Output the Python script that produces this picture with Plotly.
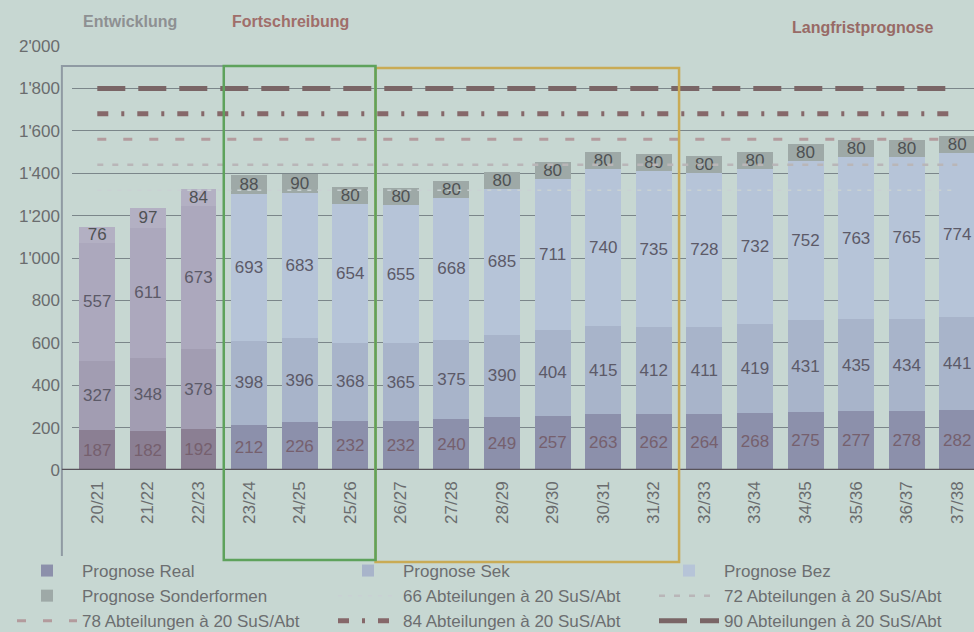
import plotly.graph_objects as go

# ---------------- data ----------------
categories = ["20/21", "21/22", "22/23", "23/24", "24/25", "25/26", "26/27", "27/28", "28/29",
              "29/30", "30/31", "31/32", "32/33", "33/34", "34/35", "35/36", "36/37", "37/38"]
real = [187, 182, 192, 212, 226, 232, 232, 240, 249, 257, 263, 262, 264, 268, 275, 277, 278, 282]
sek = [327, 348, 378, 398, 396, 368, 365, 375, 390, 404, 415, 412, 411, 419, 431, 435, 434, 441]
bez = [557, 611, 673, 693, 683, 654, 655, 668, 685, 711, 740, 735, 728, 732, 752, 763, 765, 774]
sonder = [76, 97, 84, 88, 90, 80, 80, 80, 80, 80, 80, 80, 80, 80, 80, 80, 80, 80]
n_hist = 3  # Entwicklung (historic) years

abteilungen = [66, 72, 78, 84, 90]
sus_per_abt = 20
ytick_vals = [0, 200, 400, 600, 800, 1000, 1200, 1400, 1600, 1800, 2000]

series_names = ["Prognose Real", "Prognose Sek", "Prognose Bez", "Prognose Sonderformen"]
series_vals = [real, sek, bez, sonder]

# ---------------- styles ----------------
FONT = "Liberation Sans, Arial, sans-serif"
BG = "#c7d7d2"
hist_colors = ["#8b7f93", "#a29db2", "#aca8bd", "#b3b0c3"]
prog_colors = ["#8c90ab", "#a8b4ca", "#b6c4d8", "#9ea9a7"]
label_colors = ["#76606e", "#5c5a68", "#5c5a68", "#4f5254"]

line_styles = {
    66: dict(color="#c9d1d3", width=1.5, dash="4px,6px"),
    72: dict(color="#b9b6b8", width=2.5, dash="6px,9px"),
    78: dict(color="#b39b9d", width=3, dash="9px,17px"),
    84: dict(color="#86686a", width=5, dash="11px,13px,3px,13px"),
    90: dict(color="#7a6566", width=5, dash="28px,13px"),
}

fig = go.Figure()

hist_x = categories[:n_hist]
prog_x = categories[n_hist:]
for i, (name, vals) in enumerate(zip(series_names, series_vals)):
    common = dict(texttemplate="%{y}", textposition="inside", insidetextanchor="middle",
                  textangle=0, textfont=dict(size=17, color=label_colors[i], family=FONT),
                  marker_line_width=0, hoverinfo="skip")
    fig.add_trace(go.Bar(x=hist_x, y=vals[:n_hist], name=name, showlegend=False,
                         marker_color=hist_colors[i], legendgroup=name, **common))
    fig.add_trace(go.Bar(x=prog_x, y=vals[n_hist:], name=name, showlegend=True,
                         marker_color=prog_colors[i], legendgroup=name, **common))

for a in abteilungen:
    fig.add_trace(go.Scatter(x=categories, y=[a * sus_per_abt] * len(categories), mode="lines",
                             name=f"{a} Abteilungen à 20 SuS/Abt", line=line_styles[a],
                             hoverinfo="skip"))

# ---------------- layout geometry ----------------
W, H = 974, 632
ml, mr, mt, mb = 72, 0, 46, 162
xr = [-0.5, 17.33]
yr = [0, 2000]
pw, ph = W - ml - mr, H - mt - mb


def px_to_paper_x(px):
    return (px - ml) / pw


def px_to_paper_y(py):
    return (H - mb - py) / ph


def cat_to_paper_x(c):
    return (c - xr[0]) / (xr[1] - xr[0])


shapes = [
    # Entwicklung frame (gray)
    dict(type="path", xref="paper", yref="paper", layer="above",
         path=f"M {cat_to_paper_x(-0.7)},{px_to_paper_y(556)} L {cat_to_paper_x(-0.7)},{px_to_paper_y(66)} "
              f"L {cat_to_paper_x(2.5)},{px_to_paper_y(66)}",
         line=dict(color="#8f9aa3", width=2)),
    # baseline
    dict(type="line", xref="paper", yref="y", layer="above",
         x0=cat_to_paper_x(-0.7), x1=1, y0=0, y1=0,
         line=dict(color="#57525a", width=2.5)),
    # Fortschreibung frame (yellow)
    dict(type="rect", xref="paper", yref="paper", layer="above",
         x0=cat_to_paper_x(5.5), x1=cat_to_paper_x(11.5), y0=px_to_paper_y(562), y1=px_to_paper_y(68),
         line=dict(color="#c9ab55", width=2.5)),
    # Fortschreibung frame (green)
    dict(type="rect", xref="paper", yref="paper", layer="above",
         x0=cat_to_paper_x(2.5), x1=cat_to_paper_x(5.5), y0=px_to_paper_y(560), y1=px_to_paper_y(66),
         line=dict(color="#5ea25c", width=2.5)),
]

annotations = [
    dict(text="<b>Entwicklung</b>", x=px_to_paper_x(130), y=px_to_paper_y(21), xref="paper", yref="paper",
         xanchor="center", yanchor="middle",
         showarrow=False, font=dict(size=16, color="#8e9092", family=FONT)),
    dict(text="<b>Fortschreibung</b>", x=px_to_paper_x(290), y=px_to_paper_y(21), xref="paper", yref="paper",
         xanchor="center", yanchor="middle",
         showarrow=False, font=dict(size=16, color="#a06e6a", family=FONT)),
    dict(text="<b>Langfristprognose</b>", x=px_to_paper_x(862), y=px_to_paper_y(28), xref="paper", yref="paper",
         xanchor="center", yanchor="middle",
         showarrow=False, font=dict(size=16, color="#986a66", family=FONT)),
]

fig.update_layout(
    width=W, height=H,
    margin=dict(l=ml, r=mr, t=mt, b=mb, autoexpand=False),
    paper_bgcolor=BG, plot_bgcolor=BG,
    barmode="stack", bargap=0.29,
    separators=".'",
    uniformtext=dict(minsize=17, mode="show"),
    font=dict(family=FONT, color="#666a6c"),
    shapes=shapes,
    annotations=annotations,
    showlegend=True,
    legend=dict(orientation="h", x=px_to_paper_x(12), y=px_to_paper_y(553), xref="paper", yref="paper",
                xanchor="left", yanchor="top",
                entrywidth=246, entrywidthmode="pixels", itemwidth=60, tracegroupgap=0,
                font=dict(size=17, color="#6c6e70", family=FONT), bgcolor="rgba(0,0,0,0)",
                traceorder="normal"),
)

fig.update_xaxes(type="category", categoryorder="array", categoryarray=categories, range=xr,
                 tickangle=-90, tickfont=dict(size=17, color="#6a6c6e"), showgrid=False,
                 showline=False, ticks="", automargin=False, ticklabelstandoff=7)
fig.update_yaxes(range=yr, tickvals=ytick_vals, tickformat=",d", tickfont=dict(size=17, color="#6a6c6e"),
                 showgrid=True, gridcolor="#7b868a", gridwidth=1.3, zeroline=False, showline=False,
                 ticks="", automargin=False, ticklabelstandoff=11)

fig.write_html("out.html", config={"displayModeBar": False},
               post_script=f"document.body.style.margin='0';document.body.style.background='{BG}';")
